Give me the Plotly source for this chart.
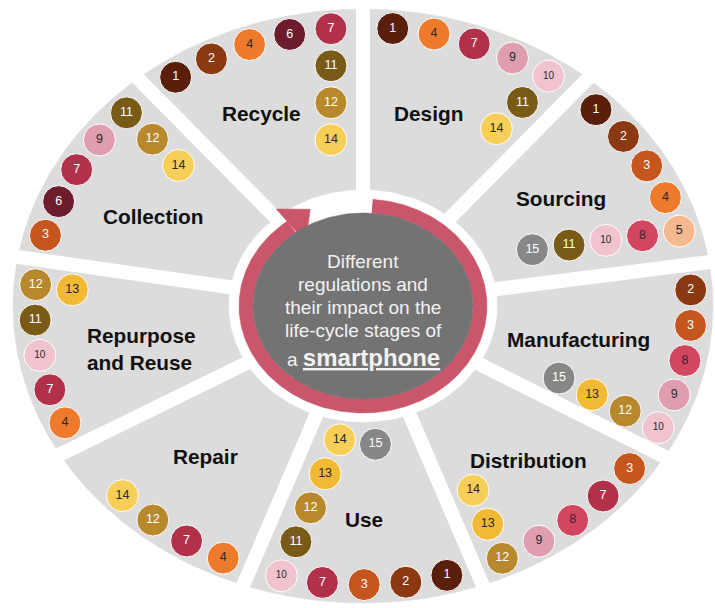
import numpy as np
import plotly.graph_objects as go

# ---------------- data ----------------
stages = ["Recycle", "Design", "Sourcing", "Manufacturing", "Distribution",
          "Use", "Repair", "Repurpose and Reuse", "Collection"]

recycle_regs = [1, 2, 4, 6, 7, 11, 12, 14]
design_regs = [1, 4, 7, 9, 10, 11, 14]
sourcing_regs = [1, 2, 3, 4, 5, 8, 10, 11, 15]
manufacturing_regs = [2, 3, 8, 9, 10, 12, 13, 15]
distribution_regs = [3, 7, 8, 9, 12, 13, 14]
use_regs = [1, 2, 3, 7, 10, 11, 12, 13, 14, 15]
repair_regs = [4, 7, 12, 14]
repurpose_regs = [4, 7, 10, 11, 12, 13]
collection_regs = [3, 6, 7, 9, 11, 12, 14]

stage_regs = [recycle_regs, design_regs, sourcing_regs, manufacturing_regs,
              distribution_regs, use_regs, repair_regs, repurpose_regs,
              collection_regs]

center_lines = ["Different", "regulations and", "their impact on the",
                "life-cycle stages of"]
center_last = ("a", "smartphone")

# ---------------- styles / layout ----------------
reg_colors = {
    1: "#5A1F0B", 2: "#8A3913", 3: "#C4561E", 4: "#EE7B2C", 5: "#F6B98F",
    6: "#6C1C2C", 7: "#B1314A", 8: "#D2465F", 9: "#DF9EAF", 10: "#F0C3CE",
    11: "#7A5A17", 12: "#B8892C", 13: "#F2B934", 14: "#F6CE58", 15: "#878787",
}
light_text = {1, 2, 3, 6, 7, 11, 12, 15}

W, H = 715, 608
CX, CY = 363, 306
RX, RY = 350, 297
SECTOR_GRAY = "#DCDCDC"
RING = "#C9566B"
CORE = "#737373"
FONT = "Arial, Liberation Sans, sans-serif"

# sector edge angles (deg, counter-clockwise start edge of each stage)
sector_edges = [130, 90, 50, 8.5, -30.5, -70, -110, -150, -189.5]

# label anchor in normalized polar coords (r, theta deg)
label_pos = [(0.711, 114.0), (0.676, 74.0), (0.671, 32.5), (0.625, -10.5),
             (0.703, -47.6), (0.72, -89.8), (0.678, -131.5), (0.650, -167.1),
             (0.672, 153.2)]

ARC_R = 0.938
ARC_OFFSET = 5.2
ARC_STEP = 7.3
ARC_CAP = 5
INWARD_STEP = 37.0
INWARD_CAP = 4
OVERFLOW_STEP = 36.0

CENTER_TOP = 261.5
CENTER_LINE_GAP = 23.0


def ell(rx, ry, th):
    t = np.radians(th)
    return CX + rx * np.cos(t), CY - ry * np.sin(t)


def edge_pair(k):
    th_start = sector_edges[k]
    th_end = sector_edges[(k + 1) % len(sector_edges)]
    while th_end >= th_start:
        th_end -= 360
    return th_start, th_end


def circle_positions(k, n):
    th_start, th_end = edge_pair(k)
    pts = []
    for i in range(min(n, ARC_CAP)):
        th = th_start - ARC_OFFSET - ARC_STEP * i
        pts.append(np.array(ell(RX * ARC_R, RY * ARC_R, th)))
    if n > ARC_CAP:
        e = np.array([RX * np.cos(np.radians(th_end)), -RY * np.sin(np.radians(th_end))])
        d = -e / np.linalg.norm(e)
        base = pts[ARC_CAP - 1]
        for j in range(1, min(n - ARC_CAP, INWARD_CAP) + 1):
            pts.append(base + d * INWARD_STEP * j)
        if n > ARC_CAP + INWARD_CAP:
            last = pts[-1]
            u = (last[0] - CX) / RX
            v = (CY - last[1]) / RY
            th = np.arctan2(v, u)
            t = np.array([-RX * np.sin(th), -RY * np.cos(th)])
            t = t / np.linalg.norm(t)
            for j in range(1, n - ARC_CAP - INWARD_CAP + 1):
                pts.append(last + t * OVERFLOW_STEP * j)
    return pts


fig = go.Figure()


def poly(xs, ys, color):
    fig.add_trace(go.Scatter(x=list(xs), y=list(ys), mode="lines", fill="toself",
                             fillcolor=color, line=dict(color=color, width=0.5),
                             hoverinfo="skip", showlegend=False))


# sectors
for k in range(len(stages)):
    th_s, th_e = edge_pair(k)
    ths = np.linspace(th_s, th_e, 80)
    ex, ey = ell(RX, RY, ths)
    poly(np.concatenate([[CX], ex, [CX]]), np.concatenate([[CY], ey, [CY]]), SECTOR_GRAY)

# white gaps
gx, gy = [], []
for th_b in sector_edges:
    x1, y1 = ell(RX * 1.1, RY * 1.1, th_b)
    gx += [CX, x1, None]
    gy += [CY, y1, None]
fig.add_trace(go.Scatter(x=gx, y=gy, mode="lines", line=dict(color="white", width=14),
                         hoverinfo="skip", showlegend=False))

# white margin around the hub
mx, my = ell(134, 116, np.linspace(0, 360, 200))
poly(mx, my, "white")

# red ring (clockwise arrow)
ring_out = (124, 107)
ring_in = (110, 93)
th_a, th_b = 85.5, 127.7 - 360
ths = np.linspace(th_a, th_b, 300)
ox, oy = ell(ring_out[0], ring_out[1], ths)
ix, iy = ell(ring_in[0], ring_in[1], ths[::-1])
poly(np.concatenate([ox, ix]), np.concatenate([oy, iy]), RING)

# arrow head
bx1, by1 = ell(ring_out[0] * 1.146, ring_out[1] * 1.146, 127.7)
bx2, by2 = ell(ring_out[0] * 0.754, ring_out[1] * 0.754, 127.7)
tx, ty = ell(ring_out[0] * 1.0, ring_out[1] * 1.0, 115.2)
poly([bx1, tx, bx2, bx1], [by1, ty, by2, by1], RING)

# dark core
cx_, cy_ = ell(ring_in[0], ring_in[1], np.linspace(0, 360, 200))
poly(cx_, cy_, CORE)

# numbered circles
for k, regs in enumerate(stage_regs):
    pts = circle_positions(k, len(regs))
    fig.add_trace(go.Scatter(
        x=[p[0] for p in pts], y=[p[1] for p in pts], mode="markers+text",
        marker=dict(size=32, color=[reg_colors[r] for r in regs],
                    line=dict(color="white", width=1)),
        text=[str(r) for r in regs], textposition="middle center",
        textfont=dict(family=FONT, size=[10 if r == 10 else 12.5 for r in regs],
                      color=["white" if r in light_text else "#2a2a2a" for r in regs]),
        hoverinfo="skip", showlegend=False))

annotations = []
for name, (r, th) in zip(stages, label_pos):
    x, y = ell(RX * r, RY * r, th)
    txt = name.replace("Repurpose and", "Repurpose<br>and")
    annotations.append(dict(x=x, y=y, xref="x", yref="y", text="<b>" + txt + "</b>",
                            showarrow=False, align="left",
                            font=dict(family=FONT, size=20.8, color="#111111")))

for i, line in enumerate(center_lines):
    annotations.append(dict(x=CX, y=CENTER_TOP + CENTER_LINE_GAP * i, xref="x", yref="y",
                            text=line, showarrow=False,
                            font=dict(family=FONT, size=19, color="#F2F2F2")))
annotations.append(dict(x=CX, y=CENTER_TOP + CENTER_LINE_GAP * 4 + 3.5, xref="x", yref="y",
                        text=center_last[0] + " <span style='font-size:24px'><b><u>"
                        + center_last[1] + "</u></b></span>",
                        showarrow=False,
                        font=dict(family=FONT, size=19, color="#F2F2F2")))

fig.update_layout(
    width=W, height=H, margin=dict(l=0, r=0, t=0, b=0),
    paper_bgcolor="white", plot_bgcolor="white",
    xaxis=dict(range=[0, W], visible=False, fixedrange=True),
    yaxis=dict(range=[H, 0], visible=False, fixedrange=True),
    annotations=annotations, showlegend=False,
)

fig.write_html("out.html", config={"displayModeBar": False},
               post_script="document.body.style.margin='0px';document.body.style.overflow='hidden';")
